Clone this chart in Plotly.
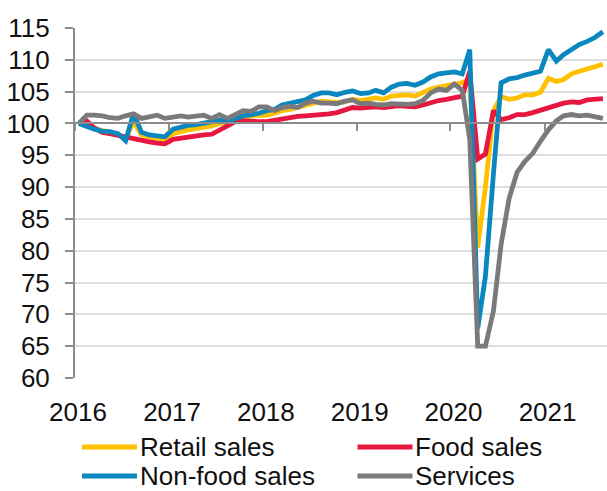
import pandas as pd
import plotly.graph_objects as go

# ---- data (monthly index, Jan 2016 = 100) ----
start_month = "2016-01-01"
n_months = 68
years = ["2016", "2017", "2018", "2019", "2020", "2021"]
series_names = ["Retail sales", "Food sales", "Non-food sales", "Services"]

retail = [100.0, 99.8, 99.2, 98.8, 98.6, 98.3, 97.6, 100.3, 98.2, 97.9, 97.7, 97.5,
          98.4, 98.8, 99.0, 99.2, 99.4, 99.6, 100.0, 100.2, 100.6, 101.0, 101.2, 101.2,
          101.3, 101.6, 102.0, 102.2, 102.5, 102.8, 103.1, 103.5, 103.4, 103.3, 103.4, 103.8,
          103.6, 103.8, 104.0, 103.8, 104.3, 104.4, 104.5, 104.3, 104.9, 105.4, 105.7, 105.9,
          106.1, 106.4, 107.0, 80.5, 90.0, 102.0, 104.2, 103.8, 104.0, 104.5, 104.5, 104.9,
          107.1, 106.6, 106.9, 107.8, 108.2, 108.5, 108.9, 109.3]

food = [100.0, 100.4, 99.3, 98.6, 98.4, 98.1, 97.8, 97.5, 97.3, 97.1, 96.9, 96.8,
        97.5, 97.7, 97.9, 98.1, 98.2, 98.3, 98.9, 99.6, 100.3, 100.4, 100.3, 100.3,
        100.3, 100.5, 100.8, 101.0, 101.1, 101.2, 101.3, 101.3, 101.5, 101.7, 102.1, 102.5,
        102.4, 102.5, 102.6, 102.5, 102.7, 102.8, 102.7, 102.6, 102.9, 103.3, 103.6, 103.8,
        104.0, 104.3, 108.2, 94.4, 95.2, 102.0, 100.6, 100.9, 101.4, 101.4, 101.7, 102.1,
        102.5, 102.9, 103.2, 103.4, 103.3, 103.7, 103.8, 103.9]

non_food = [100.0, 99.5, 99.1, 98.8, 98.7, 98.4, 97.3, 101.6, 98.6, 98.2, 98.1, 97.9,
            99.1, 99.5, 99.7, 99.8, 100.0, 100.3, 100.5, 100.3, 100.8, 101.2, 101.4, 101.6,
            102.0, 102.2, 102.9, 103.2, 103.3, 103.7, 104.4, 104.8, 104.8, 104.5, 104.9, 105.1,
            104.7, 104.8, 105.2, 104.8, 105.7, 106.2, 106.3, 106.0, 106.5, 107.3, 107.8, 108.0,
            108.1, 107.8, 111.6, 67.8, 76.0, 92.0, 106.4, 107.0, 107.2, 107.6, 107.9, 108.2,
            111.6, 109.8, 110.8, 111.7, 112.4, 112.9, 113.5, 114.4]

services = [100.0, 101.3, 101.3, 101.2, 100.9, 100.8, 101.2, 101.5, 100.8, 101.0, 101.3, 100.8,
            101.0, 101.2, 101.0, 101.1, 101.3, 100.8, 101.4, 100.8, 101.4, 102.0, 101.9, 102.6,
            102.6, 102.0, 102.5, 102.7, 102.5, 103.2, 103.5, 103.2, 103.2, 103.1, 103.5, 103.7,
            103.1, 103.2, 103.0, 102.9, 103.1, 103.0, 103.0, 103.1, 103.6, 104.8, 105.4, 105.2,
            106.2, 105.2, 97.5, 65.0, 65.0, 70.5, 81.0, 88.2, 92.3, 94.0, 95.3, 97.2,
            99.0, 100.4, 101.2, 101.4, 101.2, 101.3, 101.1, 100.8]

colors = ["#FFC000", "#E8173F", "#0A87BE", "#7A7A7D"]

# monthly observations plotted mid-month
dates = pd.date_range(start_month, periods=n_months, freq="MS") + pd.Timedelta(days=15)
year_ticks = [f"{y}-01-01" for y in years]
x_range = [start_month, "2021-09-01"]

fig = go.Figure()
for name, vals, col in zip(series_names, [retail, food, non_food, services], colors):
    fig.add_trace(go.Scatter(x=dates, y=vals, mode="lines", name=name,
                             line=dict(color=col, width=4.8), showlegend=False))
# helper trace so the mid-axis (at 100) exists
fig.add_trace(go.Scatter(x=[], y=[], xaxis="x2", showlegend=False, hoverinfo="skip"))

axis_grey = "#8C8C8C"
font_family = "Liberation Sans, Arial, sans-serif"

fig.update_layout(
    width=607, height=491,
    margin=dict(l=75, r=0, t=28, b=113, autoexpand=False),
    paper_bgcolor="white", plot_bgcolor="white",
    font=dict(family=font_family, size=26, color="#111111"),
    xaxis=dict(type="date", range=x_range, tickvals=year_ticks, ticktext=years,
               showgrid=False, showline=False, zeroline=False, ticks="",
               ticklabelshift=3, ticklabelstandoff=16, automargin=False,
               tickfont=dict(size=26)),
    xaxis2=dict(type="date", range=x_range, overlaying="x", anchor="free",
                position=(100 - 60) / (115 - 60), automargin=False,
                tickvals=year_ticks, showticklabels=False, showgrid=False,
                showline=True, linecolor=axis_grey, linewidth=2,
                ticks="outside", ticklen=7, tickwidth=2, tickcolor=axis_grey,
                zeroline=False),
    yaxis=dict(range=[60, 115], tick0=60, dtick=5, showgrid=True,
               gridcolor="#D9E0DF", gridwidth=2, zeroline=False, automargin=False,
               showline=True, linecolor=axis_grey, linewidth=2,
               ticks="outside", ticklen=8, tickwidth=2, tickcolor=axis_grey,
               ticklabelstandoff=10, tickfont=dict(size=26)),
)

# legend drawn as two columns below the chart
leg_rows = [-0.197, -0.28]
leg_cols = [(0.0132, 0.1165, 0.1203), (0.531, 0.6344, 0.6372)]
positions = [(0, 0), (0, 1), (1, 0), (1, 1)]
for name, col, (r, c) in zip(series_names, colors, positions):
    x0, x1, xt = leg_cols[c]
    y = leg_rows[r]
    fig.add_shape(type="line", xref="paper", yref="paper", x0=x0, x1=x1, y0=y, y1=y,
                  line=dict(color=col, width=5))
    fig.add_annotation(xref="paper", yref="paper", x=xt, y=y, text=name,
                       showarrow=False, xanchor="left", yanchor="middle",
                       height=28, borderpad=0,
                       font=dict(size=26, family=font_family, color="#111111"))

fig.write_html("out.html", config={"displayModeBar": False},
               post_script="document.body.style.margin='0px';document.body.style.overflow='hidden';")
